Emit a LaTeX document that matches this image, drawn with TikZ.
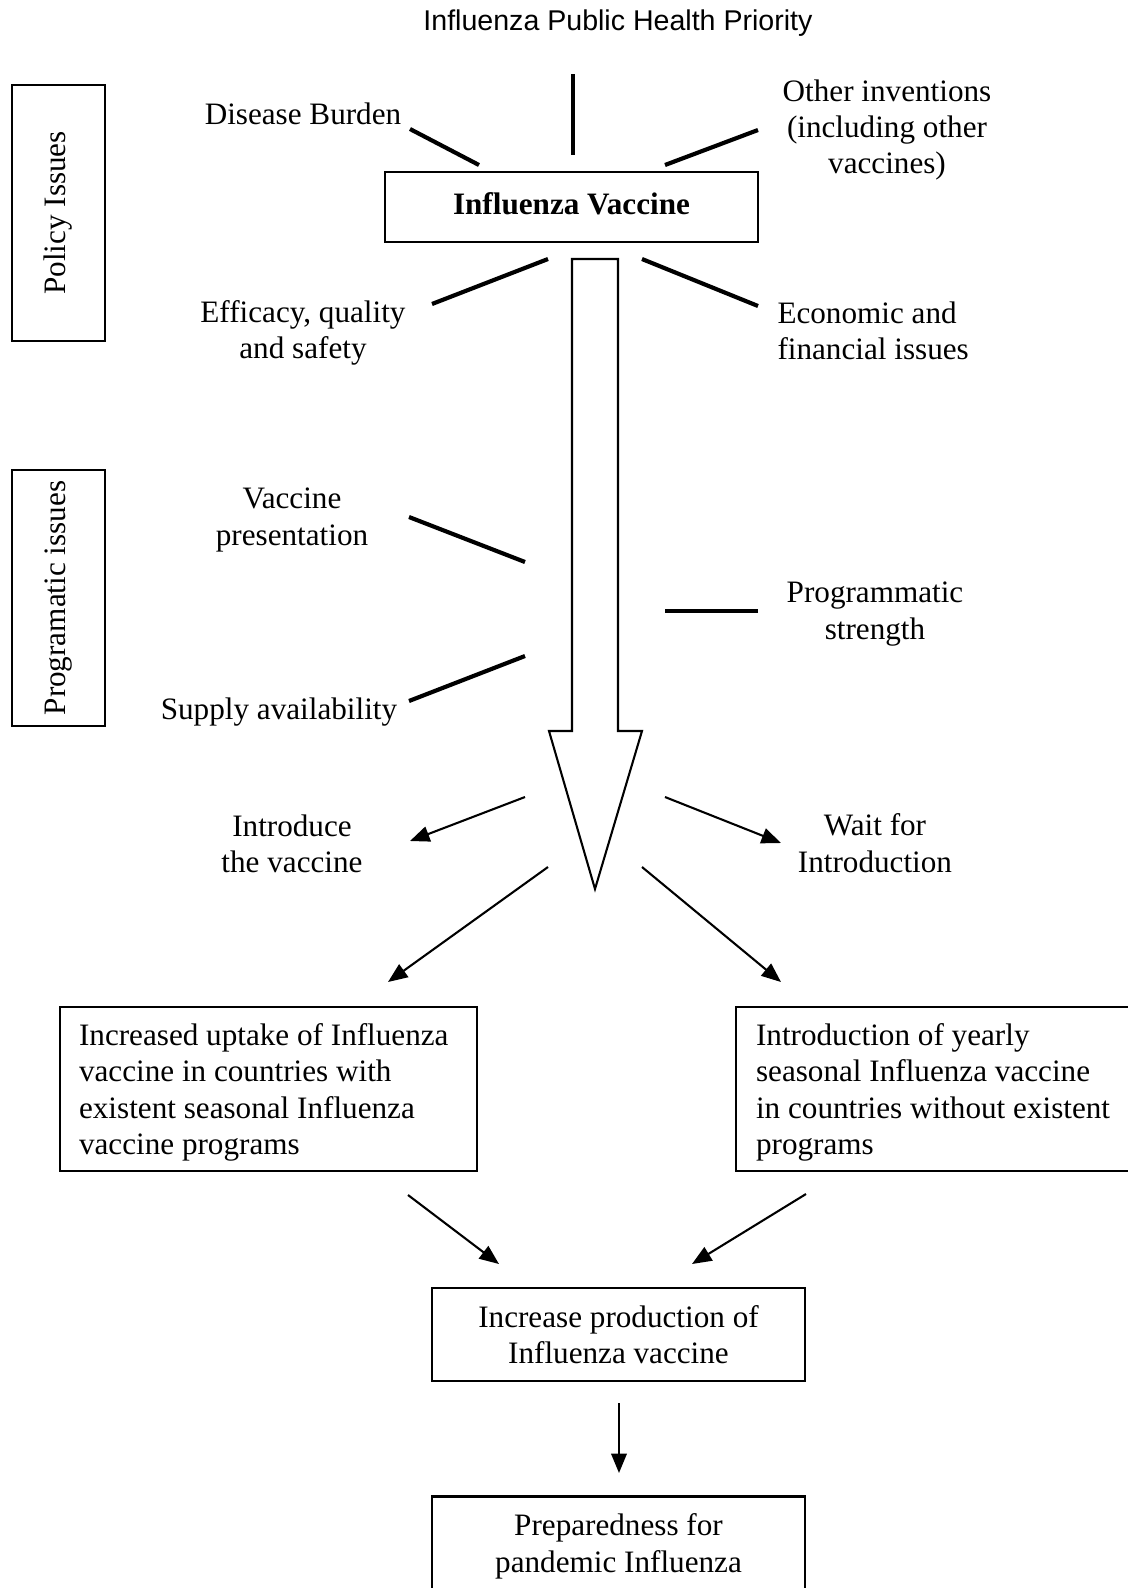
\documentclass[tikz,border=0pt]{standalone}
\usepackage{fontspec}
\setmainfont{Liberation Serif}
\newfontfamily\arialfont{Liberation Sans}
\usetikzlibrary{arrows.meta}
\newcommand\pxu{0.385pt}

\begin{document}
\begin{tikzpicture}[x=\pxu,y=-\pxu,
                    txt/.style = {font=\fontsize{12}{14}\selectfont,
                                align=center,
                                inner sep=0pt},
                    frame/.style = {draw,
                                line width=0.8pt,
                                font=\fontsize{12}{14}\selectfont,
                                align=center},
                    box/.style = {frame,
                                text depth=0pt,
                                minimum width=373*\pxu,
                                minimum height=93*\pxu},
                    side/.style = {frame,
                                rotate=90,
                                minimum width=256*\pxu,
                                minimum height=93*\pxu},
                    outcome/.style = {frame,
                                align=left,
                                anchor=west,
                                text height=11pt,
                                minimum height=164*\pxu,
                                execute at begin node={\spaceskip=3pt\relax}},
                    spoke/.style = {line width=1.6pt},
                    flow/.style = {line width=0.8pt,
                                -{Triangle[length=7.5pt,width=6pt]}}]
                    \path[use as bounding box, clip] (0,0) rectangle (1128,1588);
                    % Title
                    \node[font=\arialfont\fontsize{11}{13}\selectfont] (title) at (618,23) {Influenza Public Health Priority};
                    % Side boxes
                    \node[side] (policy) at (58.5,213) {Policy Issues};
                    \node[side] (programatic) at (58.5,598) {Programatic issues};
                    % Central box
                    \node[box,minimum height=70*\pxu,text depth=2.7pt] (vaccine) at (571.5,207) {\textbf{Influenza Vaccine}};
                    % Factors round the vaccine
                    \node[txt] (burden) at (303,114) {Disease Burden};
                    \node[txt] (others) at (887,130) {Other inventions\\(including other\\vaccines)};
                    \node[txt] (efficacy) at (303,333) {Efficacy, quality\\and safety};
                    \node[txt,align=left,anchor=west] (economic) at (777,331) {Economic and\\financial issues};
                    \node[txt] (presentation) at (292,520) {Vaccine\\presentation};
                    \node[txt] (strength) at (875,614) {Programmatic\\strength};
                    \node[txt] (supply) at (279,712) {Supply availability};
                    % Decisions
                    \node[txt] (introduce) at (292,844) {Introduce\\the vaccine};
                    \node[txt] (wait) at (875,843) {Wait for\\Introduction};
                    % Outcome boxes
                    \node[outcome,text width=146pt,inner xsep=19*\pxu] (uptake) at (59,1089)
                          {Increased uptake of Influenza\\vaccine in countries with\\existent seasonal Influenza\\vaccine programs};
                    \node[outcome,text width=140pt,inner xsep=20*\pxu] (yearly) at (735,1089)
                          {Introduction of yearly\\seasonal Influenza vaccine\\in countries without existent\\programs};
                    \node[box] (production) at (618.5,1334.5) {Increase production of\\Influenza vaccine};
                    \node[box] (preparedness) at (618.5,1543) {Preparedness for\\pandemic Influenza};
                    % Big arrow
                    \draw[line width=0.8pt] (572,259) -- (618,259) -- (618,731) -- (642,731) -- (595,889)
                          -- (549,731) -- (572,731) -- cycle;
                    % Spoke ends
                    \coordinate (top-a) at (573,74);       \coordinate (top-b) at (573,155);
                    \coordinate (burden-a) at (410,129);   \coordinate (burden-b) at (479,165);
                    \coordinate (others-a) at (758,130);   \coordinate (others-b) at (665,165);
                    \coordinate (efficacy-a) at (432,304); \coordinate (efficacy-b) at (548,259);
                    \coordinate (economic-a) at (758,306); \coordinate (economic-b) at (642,259);
                    \coordinate (present-a) at (409,517);  \coordinate (present-b) at (525,562);
                    \coordinate (strength-a) at (758,611); \coordinate (strength-b) at (665,611);
                    \coordinate (supply-a) at (409,701);   \coordinate (supply-b) at (525,656);
                    \foreach \s in {top,burden,others,efficacy,economic,present,strength,supply}
                        \draw[spoke] (\s-a) -- (\s-b);
                    % Arrow ends
                    \coordinate (intro-a) at (525,797);    \coordinate (intro-b) at (410,841);
                    \coordinate (wait-a) at (665,797);     \coordinate (wait-b) at (781,843);
                    \coordinate (left-a) at (548,867);     \coordinate (left-b) at (388,982);
                    \coordinate (right-a) at (642,867);    \coordinate (right-b) at (781,982);
                    \coordinate (up-a) at (408,1195);      \coordinate (up-b) at (499,1264);
                    \coordinate (year-a) at (806,1194);    \coordinate (year-b) at (692,1264);
                    \coordinate (prod-a) at (619,1403);    \coordinate (prod-b) at (619,1473);
                    \foreach \s in {intro,wait,left,right,up,year,prod}
                        \draw[flow] (\s-a) -- (\s-b);
                \end{tikzpicture}
\end{document}
